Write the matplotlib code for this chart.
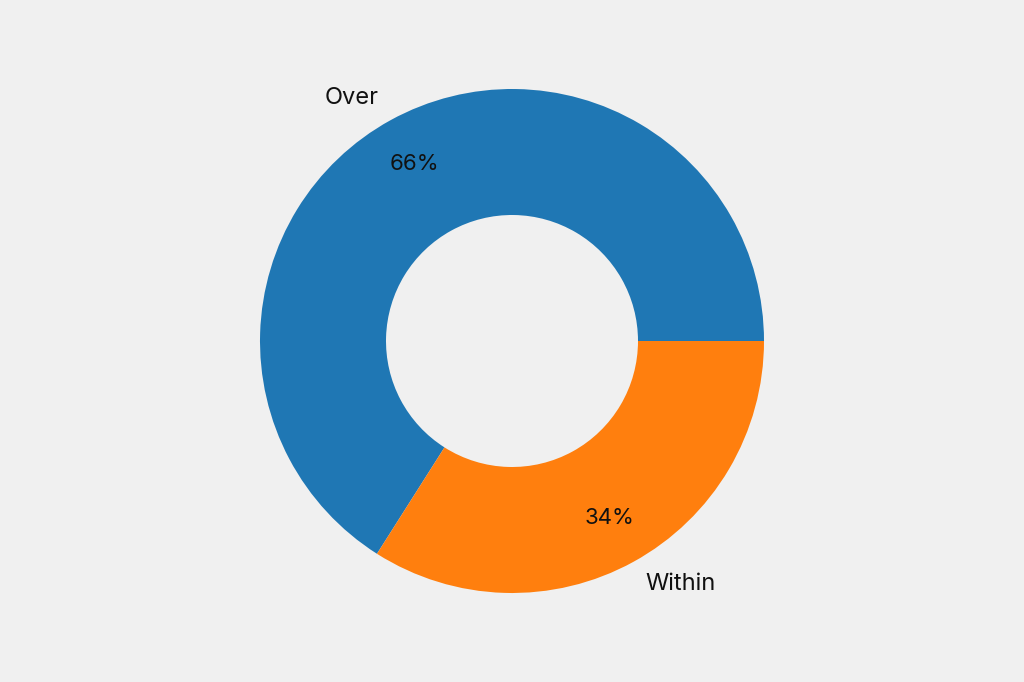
import matplotlib.pyplot as plt

# ====== Data ======
labels = ["Over", "Within"]
shares = [66, 34]
colors = ["#1f77b4", "#ff7f0e"]

plt.rcParams["font.family"] = ["Inter", "DejaVu Sans"]

fig = plt.figure(figsize=(10.24, 6.82), dpi=100)
fig.patch.set_facecolor("#f0f0f0")

# axes placed so the pie sits centred at (512, 341) px with radius ~252 px
size_px = 630
ax = fig.add_axes([(512 - size_px / 2) / 1024, (341 - size_px / 2) / 682,
                   size_px / 1024, size_px / 682])
ax.set_facecolor("#f0f0f0")

wedges, texts, autotexts = ax.pie(
    shares, labels=labels, colors=colors, startangle=0,
    autopct="%1.0f%%", pctdistance=0.8, labeldistance=1.1,
    wedgeprops=dict(width=0.5),
    textprops=dict(fontsize=17, color="#111111"),
)
for t in autotexts:
    t.set_fontsize(16)
ax.set_aspect("equal")

fig.savefig("out.png", dpi=100, facecolor=fig.get_facecolor())
